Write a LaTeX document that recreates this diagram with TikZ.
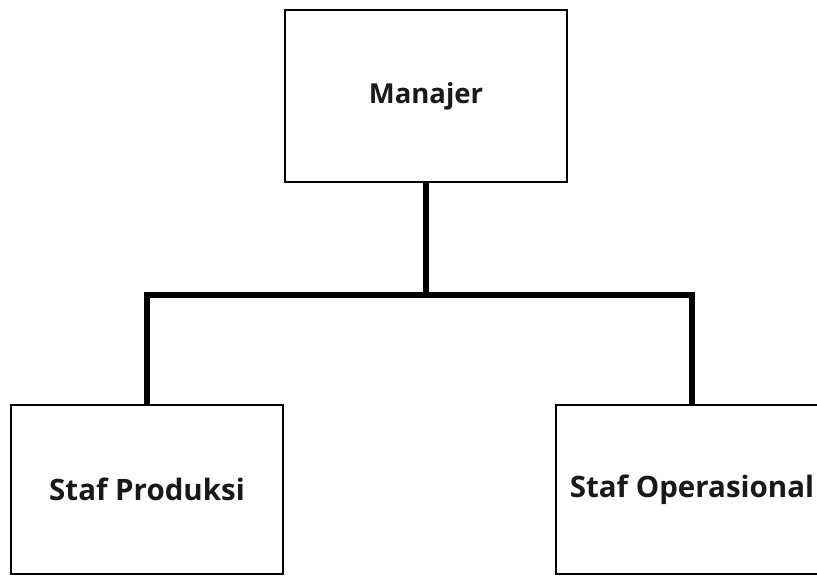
\documentclass[tikz,border=0pt]{standalone}
\usepackage{fontspec}
\setmainfont{Open Sans}
\begin{document}
\begin{tikzpicture}[x=1pt,y=-1pt,
  box/.style={draw=black,line width=2.2pt,fill=white,inner sep=0pt,
    font=\fontsize{29.5}{34}\selectfont\bfseries,text=black!90},
  link/.style={line width=6pt,draw=black,line join=miter}]
\useasboundingbox (0,0) rectangle (817,577);
\clip (0,0) rectangle (817,577);
\fill[white] (0,0) rectangle (817,577);
\node[box,minimum width=282pt,minimum height=172pt,font=\fontsize{27.5}{32}\selectfont\bfseries] (m) at (426,96) {Manajer};
\node[box,minimum width=272pt,minimum height=169pt] (l) at (147,489.5) {Staf Produksi};
\node[box,minimum width=272pt,minimum height=169pt] (r) at (692,489.5) {Staf Operasional};
\coordinate (j) at (426,295);
\draw[link] (m.south) -- (j);
\draw[link] (l.north) |- (j) -| (r.north);
\end{tikzpicture}
\end{document}
